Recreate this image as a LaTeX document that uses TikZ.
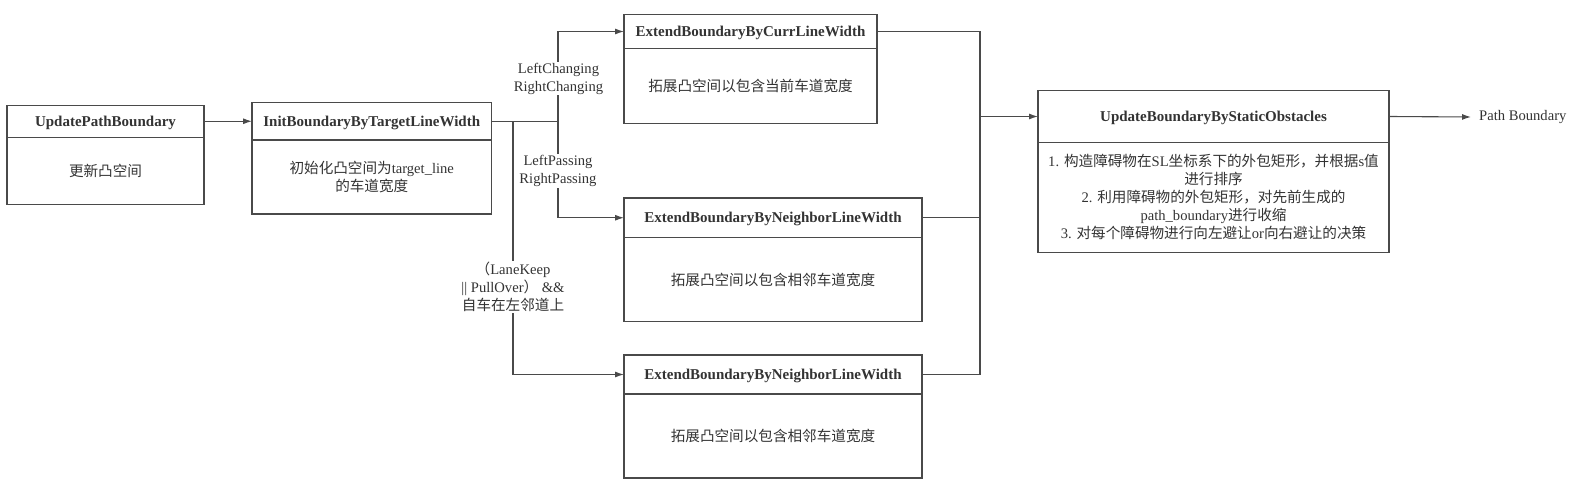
\documentclass[tikz,border=0pt]{standalone}
\usepackage{fontspec}
\setmainfont{Liberation Serif}
\newfontfamily\cjk{Noto Sans CJK SC}
\usetikzlibrary{arrows.meta}
\newcommand{\zh}[1]{{\cjk #1}}
\definecolor{ln}{HTML}{4A4A4A}
\definecolor{tx}{HTML}{333333}
\tikzset{
  base/.style={font=\fontsize{14.6}{18}\selectfont, text=tx},
  hdr/.style={base, draw=ln, line width=1.1pt, inner sep=0pt, outer sep=0pt, text height=10pt, text depth=0pt, font=\fontsize{15}{18}\selectfont\bfseries},
  bodybox/.style={base, draw=ln, line width=1.1pt, inner sep=0pt, outer sep=0pt, align=center, anchor=north},
  conn/.style={draw=ln, line width=1.1pt},
  arr/.style={conn, -{Latex[length=9pt,width=6pt]}},
  lbl/.style={base, fill=white, align=center, inner sep=1pt}
}
\begin{document}
\begin{tikzpicture}[x=1pt,y=-1pt]
\useasboundingbox (0,0) rectangle (1576,492);
% Box 1
\node[hdr, minimum width=197pt, minimum height=32.2pt] (b1h) at (105.5,121.25) {UpdatePathBoundary};
\node[bodybox, minimum width=197pt, minimum height=67.3pt] (b1b) at (b1h.south) {\zh{更新凸空间}};
% Box 2
\node[hdr, minimum width=239.5pt, minimum height=37.5pt] (b2h) at (371.75,121.25) {InitBoundaryByTargetLineWidth};
\node[bodybox, minimum width=239.5pt, minimum height=74pt] (b2b) at (b2h.south) {\zh{初始化凸空间为}target\_line\\\zh{的车道宽度}};
% Box 3
\node[hdr, minimum width=253pt, minimum height=33.5pt] (b3h) at (750.5,31.5) {ExtendBoundaryByCurrLineWidth};
\node[bodybox, minimum width=253pt, minimum height=75.1pt] (b3b) at (b3h.south) {\zh{拓展凸空间以包含当前车道宽度}};
% Box 4
\node[hdr, minimum width=298pt, minimum height=39.5pt] (b4h) at (773,217.75) {ExtendBoundaryByNeighborLineWidth};
\node[bodybox, minimum width=298pt, minimum height=84.1pt] (b4b) at (b4h.south) {\zh{拓展凸空间以包含相邻车道宽度}};
% Box 5
\node[hdr, minimum width=298pt, minimum height=39pt] (b5h) at (773,374.5) {ExtendBoundaryByNeighborLineWidth};
\node[bodybox, minimum width=298pt, minimum height=84pt] (b5b) at (b5h.south) {\zh{拓展凸空间以包含相邻车道宽度}};
% Box 6
\node[hdr, minimum width=351pt, minimum height=51.5pt] (b6h) at (1213.5,116.5) {UpdateBoundaryByStaticObstacles};
\node[bodybox, minimum width=351pt, minimum height=110pt] (b6b) at (b6h.south) {1. \zh{构造障碍物在}SL\zh{坐标系下的外包矩形，并根据}s\zh{值}\\\zh{进行排序}\\2. \zh{利用障碍物的外包矩形，对先前生成的}\\path\_boundary\zh{进行收缩}\\3. \zh{对每个障碍物进行向左避让}or\zh{向右避让的决策}};
% Output
\node[base, anchor=west, inner sep=0pt] (out) at (1479,117) {Path Boundary};
% Connectors
\draw[arr] (b1h.east) -- (b1h.east -| b2h.west);
\coordinate (br) at (558,121.25);
\coordinate (br2) at (513,121.25);
\draw[conn] (b2h.east) -- (br);
\draw[arr] (br) |- (b3h.west);
\draw[arr] (br) |- (b4h.west);
\draw[arr] (br2) |- (b5h.west);
\node[lbl] (l1) at (558.5,78.5) {LeftChanging\\RightChanging};
\node[lbl] (l2) at (558,171) {LeftPassing\\RightPassing};
\node[lbl] (l3) at (513,287) {\zh{（}LaneKeep\\\textbar\textbar{} PullOver\zh{）} \&\&\\\zh{自车在左邻道上}};
\coordinate (mtop) at (980,31.5);
\coordinate (mbot) at (980,374.5);
\draw[conn] (b3h.east) -- (mtop) -- (mbot) -- (b5h.east);
\draw[conn] (b4h.east) -- (b4h.east -| mtop);
\draw[arr] (mtop |- b6h.west) -- (b6h.west);
\draw[arr] (b6h.east) -- ([xshift=-8pt]out.west);
\end{tikzpicture}
\end{document}
